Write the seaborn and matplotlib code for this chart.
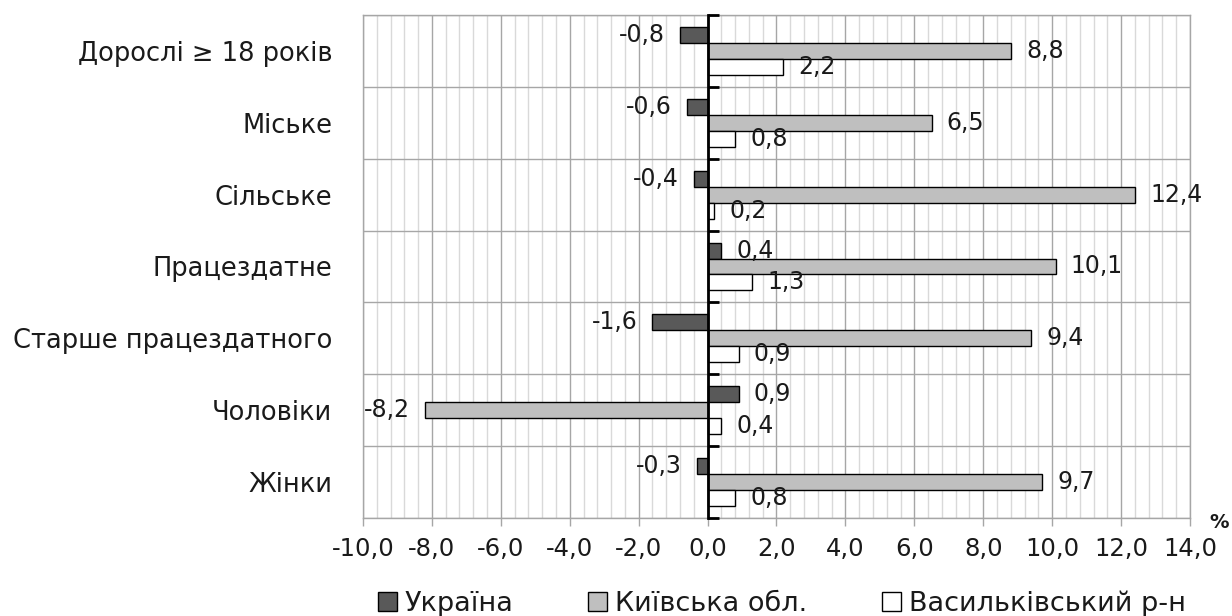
import matplotlib
matplotlib.use("Agg")
import matplotlib.pyplot as plt
from matplotlib.ticker import MultipleLocator, FixedLocator, FuncFormatter
from matplotlib.patches import Patch
import seaborn as sns
import pandas as pd

categories = ["Дорослі ≥ 18 років", "Міське", "Сільське", "Працездатне",
              "Старше працездатного", "Чоловіки", "Жінки"]
series_names = ["Україна", "Київська обл.", "Васильківський р-н"]
ukraine = [-0.8, -0.6, -0.4, 0.4, -1.6, 0.9, -0.3]
kyiv_obl = [8.8, 6.5, 12.4, 10.1, 9.4, -8.2, 9.7]
vasylkiv = [2.2, 0.8, 0.2, 1.3, 0.9, 0.4, 0.8]
x_range = (-10, 14)

colors = ["#595959", "#bfbfbf", "#ffffff"]
TXT = "#1a1a1a"

sns.set_theme(style="white")
plt.rcParams["font.family"] = ["DejaVu Sans"]
plt.rcParams["text.color"] = TXT

df = pd.DataFrame({"category": categories,
                   series_names[0]: ukraine,
                   series_names[1]: kyiv_obl,
                   series_names[2]: vasylkiv})
long = df.melt(id_vars="category", var_name="series", value_name="value")

fig = plt.figure(figsize=(12.32, 6.16), dpi=100)
ax = fig.add_axes([363 / 1232, 1 - 518 / 616, (1190 - 363) / 1232, (518 - 15) / 616])

sns.barplot(data=long, x="value", y="category", hue="series", orient="h",
            order=categories, hue_order=series_names, palette=colors,
            edgecolor="black", linewidth=1.0, width=0.667, errorbar=None,
            legend=False, ax=ax, zorder=3)

fmt = lambda v: f"{v:.1f}".replace(".", ",")
for cont in ax.containers:
    ax.bar_label(cont, labels=[fmt(b.get_width()) for b in cont],
                 padding=11, fontsize=17, color=TXT)

ax.set_xlim(*x_range)
ax.set_ylim(len(categories) - 0.5, -0.5)
ax.xaxis.set_major_locator(MultipleLocator(2))
ax.xaxis.set_minor_locator(MultipleLocator(0.4))
ax.xaxis.set_major_formatter(FuncFormatter(lambda v, p: fmt(v)))
ax.yaxis.set_minor_locator(FixedLocator([i - 0.5 for i in range(len(categories) + 1)]))

ax.set_axisbelow(True)
ax.xaxis.grid(True, which="major", color="#a6a6a6", linewidth=1.0)
ax.xaxis.grid(True, which="minor", color="#d9d9d9", linewidth=1.0)
ax.yaxis.grid(True, which="minor", color="#a6a6a6", linewidth=1.0)
ax.yaxis.grid(False, which="major")

for s in ax.spines.values():
    s.set_color("#a6a6a6")
    s.set_linewidth(1.0)

ax.tick_params(axis="x", which="major", direction="out", length=6, width=1,
               color="#a6a6a6", pad=8, labelsize=17.5, labelcolor=TXT, bottom=True)
ax.tick_params(axis="x", which="minor", length=0)
ax.tick_params(axis="y", which="both", length=0, pad=22, labelsize=18.5, labelcolor=TXT)
ax.set_xlabel("")
ax.set_ylabel("")

# zero axis with category dividers as short ticks pointing right
x0, x1 = ax.get_xlim()
zero_ax = ax.secondary_yaxis((0 - x0) / (x1 - x0))
zero_ax.set_zorder(10)
for side in ("left", "right"):
    zero_ax.spines[side].set_color("black")
    zero_ax.spines[side].set_linewidth(2)
zero_ax.set_yticks([i - 0.5 for i in range(len(categories) + 1)])
zero_ax.tick_params(axis="y", which="both", left=False, right=True, direction="out",
                    length=8, width=2, color="black", labelleft=False, labelright=False)

fig.text(1219 / 1232, 1 - 522 / 616, "%", fontsize=14, fontweight="bold",
         ha="center", va="center")

handles = [Patch(facecolor=c, edgecolor="black", linewidth=1.0) for c in colors]
fig.legend(handles, series_names, loc="center", bbox_to_anchor=(782 / 1232, 1 - 604 / 616),
           ncol=3, frameon=False, fontsize=19.5, handlelength=0.7, handleheight=0.7,
           handletextpad=0.3, columnspacing=2.75)

fig.savefig("out.png", dpi=100)
